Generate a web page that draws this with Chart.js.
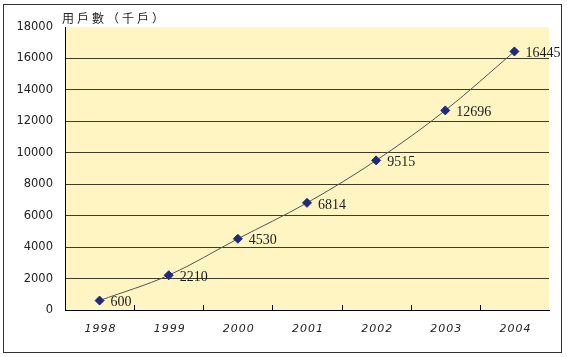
<!DOCTYPE html>
<html>
<head>
<meta charset="utf-8">
<script src="https://cdn.jsdelivr.net/npm/chart.js@4"></script>
<style>
  html, body { margin: 0; padding: 0; background: #fff; }
  #wrap { width: 567px; height: 357px; position: relative; }
</style>
</head>
<body>
<div id="wrap"><canvas id="c" width="567" height="357"></canvas></div>
<script>
const years = ['1998', '1999', '2000', '2001', '2002', '2003', '2004'];
const households = [600, 2210, 4530, 6814, 9515, 12696, 16445];
const yTicks = [0, 2000, 4000, 6000, 8000, 10000, 12000, 14000, 16000, 18000];
const yTitle = '用戶數（千戶）';

const decor = {
  id: 'decor',
  beforeDraw(chart) {
    const { ctx, chartArea: a } = chart;
    ctx.save();
    ctx.fillStyle = '#fff';
    ctx.fillRect(0, 0, chart.width, chart.height);
    ctx.fillStyle = '#FFF5C3';
    ctx.fillRect(a.left, a.top, a.right - a.left, a.bottom - a.top);
    ctx.restore();
  },
  afterDraw(chart) {
    const { ctx, chartArea: a } = chart;
    const xs = chart.scales.x;
    ctx.save();
    // outer frame
    ctx.strokeStyle = '#333';
    ctx.lineWidth = 1;
    ctx.strokeRect(3.5, 4.5, 558, 348);
    // inner tick marks on x axis at category boundaries
    ctx.strokeStyle = '#000';
    for (let i = 1; i < years.length; i++) {
      const x = Math.round((xs.getPixelForTick(i - 1) + xs.getPixelForTick(i)) / 2) + 0.5;
      ctx.beginPath();
      ctx.moveTo(x, a.bottom);
      ctx.lineTo(x, a.bottom - 5);
      ctx.stroke();
    }
    // x labels
    ctx.fillStyle = '#222';
    ctx.font = 'italic 11px "DejaVu Sans"';
    ctx.letterSpacing = '1px';
    ctx.textAlign = 'center';
    ctx.textBaseline = 'middle';
    years.forEach((y, i) => {
      ctx.fillText(y, xs.getPixelForTick(i) + 1, 329);
    });
    // axis title
    ctx.font = '12px "Noto Sans CJK TC"';
    ctx.letterSpacing = '3px';
    ctx.textAlign = 'left';
    ctx.fillText(yTitle, 62, 18);
    ctx.letterSpacing = '0px';
    // point labels
    const meta = chart.getDatasetMeta(0);
    ctx.font = '14px "Liberation Serif"';
    ctx.fillStyle = '#1a1a1a';
    ctx.textBaseline = 'middle';
    meta.data.forEach((p, i) => {
      ctx.fillText(String(households[i]), p.x + 11, p.y + 2);
    });
    ctx.restore();
  }
};

new Chart(document.getElementById('c'), {
  type: 'line',
  data: {
    labels: years,
    datasets: [{
      data: households,
      borderColor: '#555',
      borderWidth: 1,
      tension: 0.35,
      pointStyle: 'rectRot',
      pointRadius: 4.5,
      pointBackgroundColor: '#1F2A7C',
      pointBorderColor: '#1F2A7C',
      pointBorderWidth: 1,
      clip: false
    }]
  },
  options: {
    responsive: false,
    animation: false,
    events: [],
    layout: { padding: { left: 0, top: 27, right: 18, bottom: 0 } },
    plugins: { legend: { display: false }, tooltip: { enabled: false } },
    scales: {
      x: {
        type: 'category',
        offset: true,
        grid: { display: false, drawTicks: false },
        border: { display: true, color: '#000', width: 1 },
        ticks: { display: false },
        afterFit(s) { s.height = 47; }
      },
      y: {
        min: 0,
        max: 18000,
        afterBuildTicks(s) { s.ticks = yTicks.map(v => ({ value: v })); },
        grid: {
          drawTicks: false,
          color: ctx => (ctx.tick && ctx.tick.value === 18000) ? 'rgba(0,0,0,0)' : '#3f3b28',
          lineWidth: 1
        },
        border: { display: true, color: '#000', width: 1 },
        ticks: {
          padding: 12,
          color: '#222',
          font: { family: 'DejaVu Sans', size: 11.5 },
          callback: v => String(v)
        },
        afterFit(s) { s.width = 65; }
      }
    }
  },
  plugins: [decor]
});
</script>
</body>
</html>
